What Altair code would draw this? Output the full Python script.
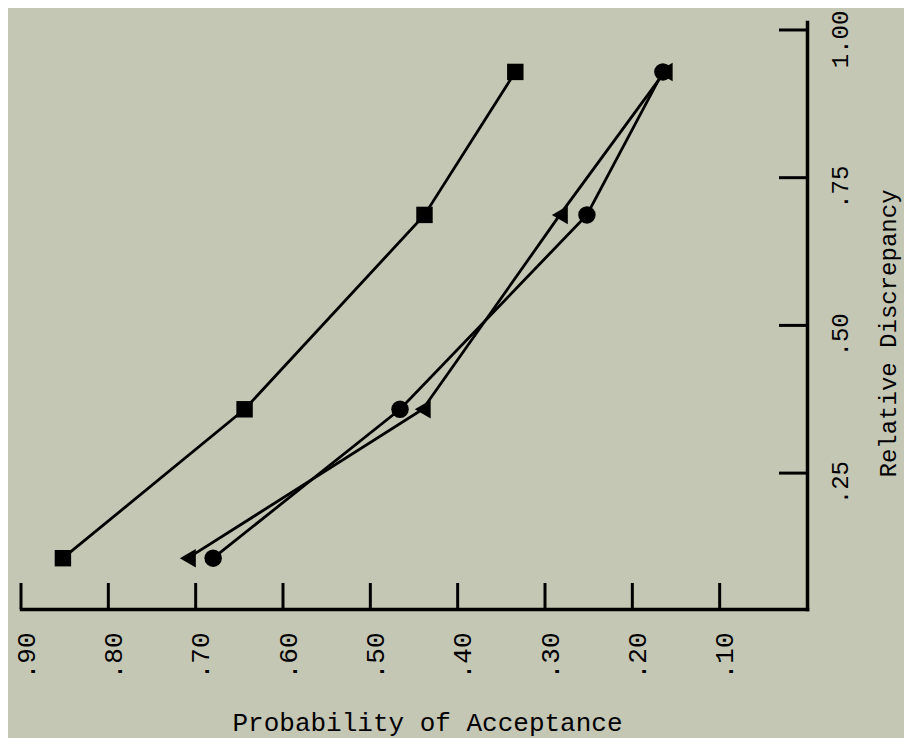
import altair as alt
import pandas as pd

# Relative discrepancy levels (shared by all series)
discrepancy = [0.106, 0.358, 0.687, 0.929]
# Probability of acceptance per series
prob_square = [0.852, 0.644, 0.438, 0.334]
prob_circle = [0.680, 0.466, 0.252, 0.165]
prob_triangle = [0.709, 0.440, 0.283, 0.163]
series_names = ["Square", "Circle", "Triangle"]
series_shapes = ["square", "circle", "triangle-left"]
series_sizes = [270, 340, 340]

# Axis ticks and labels
x_ticks = [0.9, 0.8, 0.7, 0.6, 0.5, 0.4, 0.3, 0.2, 0.1]
x_tick_labels = [".90", ".80", ".70", ".60", ".50", ".40", ".30", ".20", ".10"]
y_ticks = [0.25, 0.5, 0.75, 1.0]
y_tick_labels = [".25", ".50", ".75", "1.00"]

rows = []
for name, probs in zip(series_names, [prob_square, prob_circle, prob_triangle]):
    for d, p in zip(discrepancy, probs):
        rows.append({"series": name, "disc": d, "prob": p})
df = pd.DataFrame(rows)
xt = pd.DataFrame({"t": x_ticks})
yt = pd.DataFrame({"t": y_ticks})

W, H = 786, 587
FONT = "Liberation Mono"
BG = "#c5c7b5"

xscale = alt.Scale(domain=[0.0, 0.9], reverse=True, nice=False, zero=False)
yscale = alt.Scale(domain=[0.02, 1.0135], nice=False, zero=False)


def lab_expr(vals, labs):
    return "[" + ",".join(f"'{l}'" for l in labs) + "][indexof([" + ",".join(str(v) for v in vals) + "], datum.value)]"


xaxis = alt.Axis(
    orient="bottom", values=x_ticks, ticks=False, tickSize=0, grid=False,
    domainColor="black", domainWidth=3.5, domainCap="square",
    labelExpr=lab_expr(x_ticks, x_tick_labels), labelAngle=270,
    labelAlign="right", labelBaseline="middle", labelPadding=23, labelOffset=5,
    labelFont=FONT, labelFontSize=26, labelColor="black",
    title="Probability of Acceptance", titleFont=FONT, titleFontSize=26,
    titleFontWeight="normal", titleColor="black", titleX=406, titleY=113,
    titleAlign="center", titleBaseline="middle", titleAngle=0,
    labelFlush=False, labelOverlap=False,
)
yaxis = alt.Axis(
    orient="right", values=y_ticks, ticks=False, tickSize=0, grid=False,
    domainColor="black", domainWidth=3.5, domainCap="square",
    labelExpr=lab_expr(y_ticks, y_tick_labels), labelAngle=270,
    labelAlign="center", labelBaseline="middle", labelPadding=33, labelOffset=9,
    labelFont=FONT, labelFontSize=24, labelColor="black",
    title="Relative Discrepancy", titleFont=FONT, titleFontSize=24,
    titleFontWeight="normal", titleColor="black", titleX=81, titleY=311,
    titleAlign="center", titleBaseline="middle", titleAngle=270,
    labelFlush=False, labelOverlap=False,
)

X = alt.X("prob:Q", scale=xscale, axis=xaxis)
Y = alt.Y("disc:Q", scale=yscale, axis=yaxis)

lines = alt.Chart(df).mark_line(color="black", strokeWidth=2.8).encode(
    x=X, y=Y, detail="series:N", order="disc:Q"
)
points = alt.Chart(df).mark_point(filled=True, color="black", opacity=1).encode(
    x=alt.X("prob:Q", scale=xscale),
    y=alt.Y("disc:Q", scale=yscale),
    shape=alt.Shape("series:N", scale=alt.Scale(domain=series_names, range=series_shapes), legend=None),
    size=alt.Size("series:N", scale=alt.Scale(domain=series_names, range=series_sizes), legend=None),
)
xticks = alt.Chart(xt).mark_rule(color="black", strokeWidth=3).encode(
    x=alt.X("t:Q", scale=xscale), y=alt.value(H), y2=alt.value(H - 26)
)
yticks = alt.Chart(yt).mark_rule(color="black", strokeWidth=3).encode(
    y=alt.Y("t:Q", scale=yscale), x=alt.value(W), x2=alt.value(W - 28)
)

chart = alt.layer(xticks, yticks, lines, points).properties(
    width=W, height=H,
    padding={"left": 13, "top": 14, "right": 97, "bottom": 129},
    autosize=alt.AutoSizeParams(type="none"),
    background=BG,
).configure_view(stroke=None)

chart.save("out.html", embed_options={"renderer": "svg", "actions": False})
